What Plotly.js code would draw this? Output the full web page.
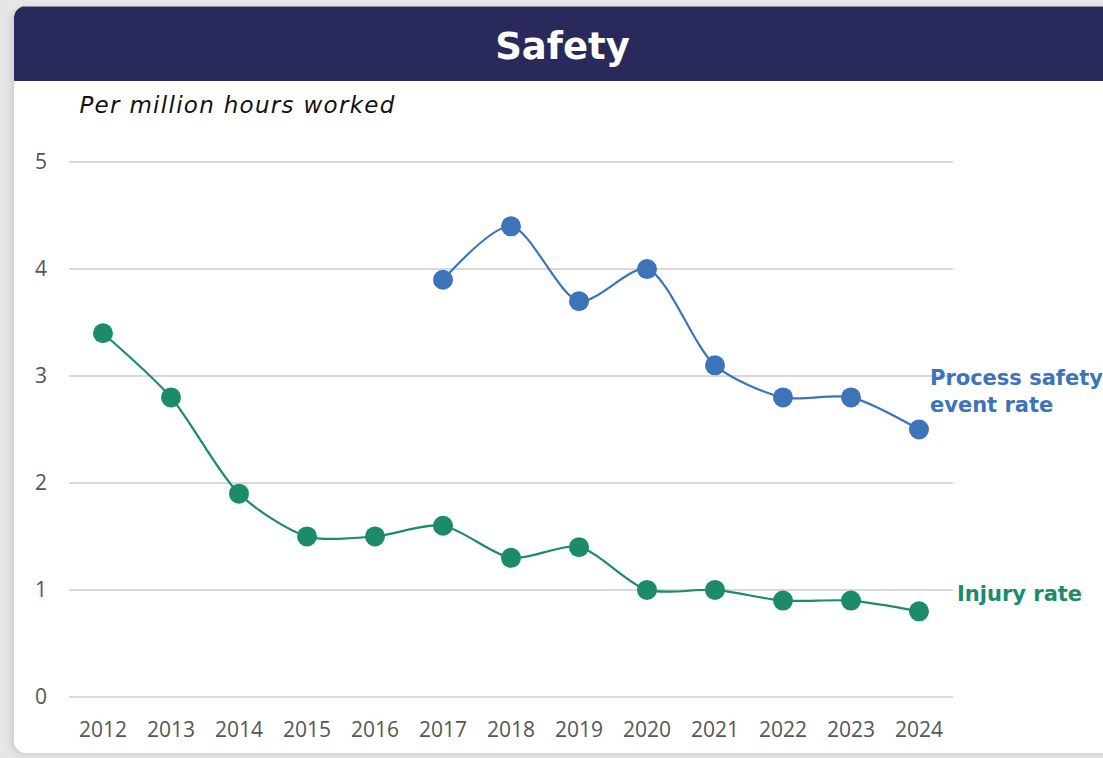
<!DOCTYPE html>
<html>
<head>
<meta charset="utf-8">
<script src="https://cdn.plot.ly/plotly-3.0.1.min.js"></script>
<style>
  html, body { margin:0; padding:0; width:1103px; height:758px; overflow:hidden; background:#e6e6e6; }
  #card { position:absolute; left:14px; top:6px; width:1120px; height:747px; background:#ffffff;
          border-radius:12px; box-shadow:-3px 2px 6px rgba(0,0,0,0.10); overflow:hidden; }
  #header { position:absolute; left:0; top:0; width:100%; height:75px; background:#29295c;
            border-top:1px solid #8a8aa0; box-sizing:border-box; }
  #chart { position:absolute; left:0; top:0; width:1103px; height:758px; }
  .annotation[data-index="0"] text { letter-spacing: 1.3px; }
</style>
</head>
<body>
<div id="card"><div id="header"></div></div>
<div id="chart"></div>
<script>
const years = [2012, 2013, 2014, 2015, 2016, 2017, 2018, 2019, 2020, 2021, 2022, 2023, 2024];
const injuryRate = [3.4, 2.8, 1.9, 1.5, 1.5, 1.6, 1.3, 1.4, 1.0, 1.0, 0.9, 0.9, 0.8];
const processYears = [2017, 2018, 2019, 2020, 2021, 2022, 2023, 2024];
const processSafetyRate = [3.9, 4.4, 3.7, 4.0, 3.1, 2.8, 2.8, 2.5];
const yTicks = [0, 1, 2, 3, 4, 5];

const green = '#1b8b6b';
const blue = '#3d73b9';

const traces = [
  { x: years, y: injuryRate, type: 'scatter', mode: 'lines+markers', name: 'Injury rate',
    line: { color: green, width: 2.2, shape: 'spline', smoothing: 0.8 },
    marker: { color: green, size: 20 }, cliponaxis: false },
  { x: processYears, y: processSafetyRate, type: 'scatter', mode: 'lines+markers', name: 'Process safety event rate',
    line: { color: blue, width: 2.2, shape: 'spline', smoothing: 0.8 },
    marker: { color: blue, size: 20 }, cliponaxis: false }
];

const layout = {
  width: 1103, height: 758,
  paper_bgcolor: 'rgba(0,0,0,0)', plot_bgcolor: 'rgba(0,0,0,0)',
  margin: { l: 69, r: 150, t: 160, b: 59 },
  showlegend: false,
  font: { family: 'Open Sans, sans-serif', color: '#555555' },
  title: { text: '<b>Safety</b>', xref: 'container', yref: 'container', x: 0.51, y: 1 - 46/758,
           xanchor: 'center', yanchor: 'middle',
           font: { family: 'DejaVu Sans, sans-serif', size: 37, color: '#ffffff', weight: 700 } },
  xaxis: { range: [2011.5, 2024.5], tickvals: years, ticktext: years.map(String),
           showgrid: false, zeroline: false, showline: false, ticks: '',
           tickfont: { size: 21, color: '#555555' }, ticklabelstandoff: 16 },
  yaxis: { range: [-0.02, 5.02], tickvals: yTicks, ticktext: yTicks.map(String),
           showgrid: true, gridcolor: '#d9d9d9', gridwidth: 2, zeroline: false, showline: false, ticks: '',
           tickfont: { size: 21, color: '#555555' }, ticklabelstandoff: 21 },
  annotations: [
    { text: '<i>Per million hours worked</i>', xref: 'paper', yref: 'paper',
      x: (93-69)/884, y: (699-105)/539, xanchor: 'left', yanchor: 'middle', showarrow: false,
      font: { family: 'DejaVu Sans, sans-serif', size: 23, color: '#111111' } },
    { text: '<b>Process safety<br>event rate</b>', xref: 'paper', yref: 'y',
      x: (928-69)/884, y: 2.86, xanchor: 'left', yanchor: 'middle', align: 'left', showarrow: false,
      font: { family: 'DejaVu Sans, sans-serif', size: 21, color: blue } },
    { text: '<b>Injury rate</b>', xref: 'paper', yref: 'y',
      x: (955-69)/884, y: 0.96, xanchor: 'left', yanchor: 'middle', align: 'left', showarrow: false,
      font: { family: 'DejaVu Sans, sans-serif', size: 21, color: green } }
  ]
};

Plotly.newPlot('chart', traces, layout, { displayModeBar: false, staticPlot: true });
</script>
</body>
</html>
